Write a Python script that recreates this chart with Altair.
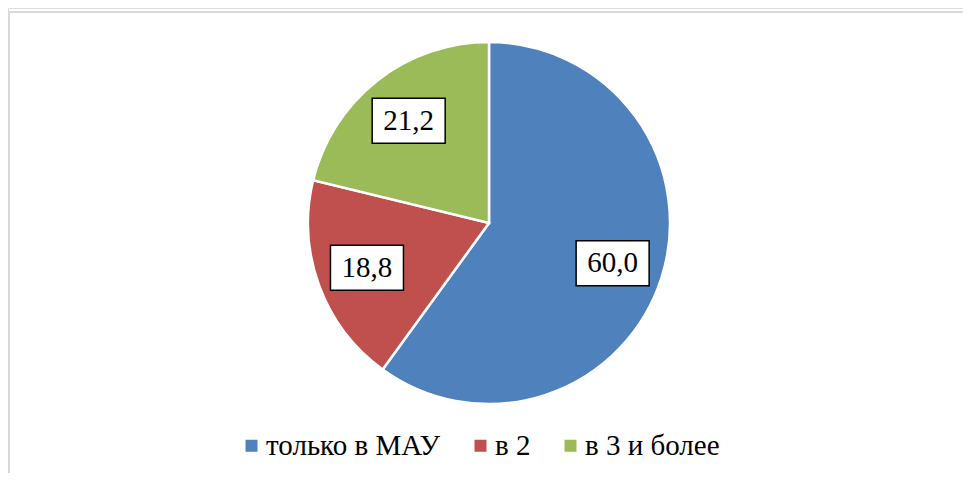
import altair as alt
import pandas as pd

categories = ["только в МАУ", "в 2", "в 3 и более"]
values = [60.0, 18.8, 21.2]
labels = ["60,0", "18,8", "21,2"]
colors = ["#4f81bd", "#c0504d", "#9bbb59"]

df = pd.DataFrame({"idx": list(range(len(categories))), "cat": categories,
                   "value": values, "lab": labels})

FONT = "Liberation Serif, DejaVu Serif, Noto Serif, serif"
W, H = 955, 465
CX, CY = 481, 215
R = 181
RL = 130

xs = alt.Scale(domain=[-CX, W - CX], range=[0, W], nice=False, zero=False)
ys = alt.Scale(domain=[-(H - CY), CY], range=[H, 0], nice=False, zero=False)

base = alt.Chart(df)

pie = base.mark_arc(outerRadius=R, stroke="white", strokeWidth=2.5).encode(
    x=alt.value(CX), y=alt.value(CY),
    theta=alt.Theta("value:Q", stack=True),
    color=alt.Color(
        "cat:N",
        scale=alt.Scale(domain=categories, range=colors),
        sort=categories,
        legend=alt.Legend(
            orient="none", legendX=229, legendY=423, direction="horizontal",
            title=None, symbolType="square", symbolSize=144, symbolStrokeWidth=0,
            labelFont=FONT, labelFontSize=29, labelColor="black", labelLimit=0,
            columnPadding=25, labelOffset=0, padding=0,
        ),
    ),
    order=alt.Order("idx:Q"),
)

pos = base.transform_window(
    cum="sum(value)", sort=[alt.SortField("idx")], frame=[None, 0]
).transform_joinaggregate(total="sum(value)").transform_calculate(
    a="(datum.cum - datum.value/2)/datum.total*2*PI",
).transform_calculate(
    lx=f"{RL}*sin(datum.a)", ly=f"{RL}*cos(datum.a)",
).transform_calculate(
    x1="datum.lx-36.5", x2="datum.lx+36.5", y1="datum.ly-22.5", y2="datum.ly+22.5",
)

box = pos.mark_rect(fill="white", stroke="black", strokeWidth=1.5).encode(
    x=alt.X("x1:Q", scale=xs, axis=None), x2="x2:Q",
    y=alt.Y("y1:Q", scale=ys, axis=None), y2="y2:Q",
)
txt = pos.mark_text(font=FONT, fontSize=29, color="black").encode(
    x=alt.X("lx:Q", scale=xs, axis=None),
    y=alt.Y("ly:Q", scale=ys, axis=None),
    text="lab:N",
)

one = pd.DataFrame({"k": [0]})
border = alt.Chart(one).mark_rect(
    fill=None, stroke="#d9d9d9", strokeWidth=2, clip=True
).encode(
    x=alt.value(1), x2=alt.value(W + 20), y=alt.value(4), y2=alt.value(H + 20)
)

chart = alt.layer(border, pie, box, txt).properties(
    width=W, height=H, padding=0
).configure_view(stroke=None).configure(background="white", font=FONT)

chart.save("out.html", embed_options={"renderer": "svg", "actions": False})
